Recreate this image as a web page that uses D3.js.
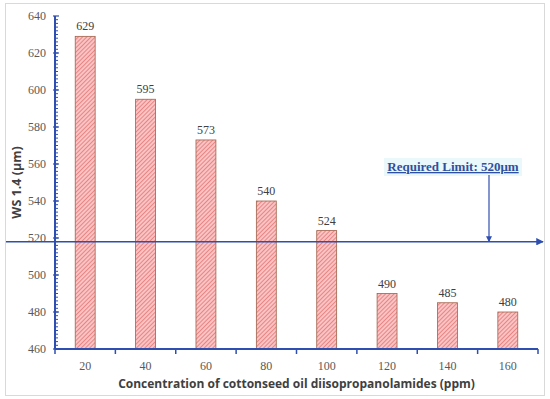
<!DOCTYPE html>
<html>
<head>
<meta charset="utf-8">
<script src="https://cdn.jsdelivr.net/npm/d3@7"></script>
<style>
  body { margin: 0; background: #fff; }
  svg { display: block; }
</style>
</head>
<body>
<svg id="chart" width="550" height="399"></svg>
<script>
const concentrations = ["20", "40", "60", "80", "100", "120", "140", "160"];
const wsValues = [629, 595, 573, 540, 524, 490, 485, 480];
const yTicks = [460, 480, 500, 520, 540, 560, 580, 600, 620, 640];
const limitValue = 518;
const limitLabel = "Required Limit: 520μm";

const width = 550;
const height = 399;
const margin = {top: 16, right: 12, bottom: 50, left: 55};
const axisColor = "#2f4fb0";

const svg = d3.select("#chart");

// outer frame
svg.append("rect")
  .attr("x", 5.5).attr("y", 3.5)
  .attr("width", 539).attr("height", 392)
  .attr("fill", "none")
  .attr("stroke", "#d9d9d9");

const defs = svg.append("defs");
const pat = defs.append("pattern")
  .attr("id", "hatch")
  .attr("patternUnits", "userSpaceOnUse")
  .attr("width", 3).attr("height", 3)
  .attr("patternTransform", "rotate(45)");
pat.append("rect").attr("width", 3).attr("height", 3).attr("fill", "#f9c4c4");
pat.append("line")
  .attr("x1", 0).attr("y1", 0).attr("x2", 0).attr("y2", 3)
  .attr("stroke", "#e45f5f").attr("stroke-width", 1.3);

const x = d3.scaleBand()
  .domain(concentrations)
  .range([margin.left, width - margin.right])
  .paddingInner(0.67)
  .paddingOuter(0.335);

const y = d3.scaleLinear()
  .domain([460, 640])
  .range([height - margin.bottom, margin.top]);

// bars
svg.append("g")
  .selectAll("rect")
  .data(wsValues)
  .join("rect")
    .attr("x", (d, i) => x(concentrations[i]))
    .attr("y", d => y(d))
    .attr("width", x.bandwidth())
    .attr("height", d => y(460) - y(d))
    .attr("fill", "url(#hatch)")
    .attr("stroke", "#a0624a")
    .attr("stroke-width", 0.8);

// value labels
svg.append("g")
  .selectAll("text")
  .data(wsValues)
  .join("text")
    .attr("x", (d, i) => x(concentrations[i]) + x.bandwidth() / 2)
    .attr("y", d => y(d) - 6)
    .attr("text-anchor", "middle")
    .attr("font-family", "Liberation Serif, serif")
    .attr("font-size", 12)
    .attr("fill", "#404040")
    .text(d => d);

// y axis
const yAxis = svg.append("g")
  .attr("transform", `translate(${margin.left},0)`);
yAxis.append("line")
  .attr("y1", y(460)).attr("y2", y(640))
  .attr("stroke", axisColor).attr("stroke-width", 2);
yAxis.selectAll(".minor")
  .data(d3.range(462, 640, 2))
  .join("line")
    .attr("x1", 0).attr("x2", 3)
    .attr("y1", d => y(d)).attr("y2", d => y(d))
    .attr("stroke", axisColor).attr("stroke-width", 1);
yAxis.selectAll(".major")
  .data(yTicks)
  .join("line")
    .attr("x1", -2).attr("x2", 4)
    .attr("y1", d => y(d)).attr("y2", d => y(d))
    .attr("stroke", axisColor).attr("stroke-width", 1.2);
yAxis.selectAll("text")
  .data(yTicks)
  .join("text")
    .attr("x", -9)
    .attr("y", d => y(d))
    .attr("dy", "0.35em")
    .attr("text-anchor", "end")
    .attr("font-family", "Liberation Serif, serif")
    .attr("font-size", 12)
    .attr("fill", "#595959")
    .text(d => d);

// x axis
const xAxis = svg.append("g")
  .attr("transform", `translate(0,${y(460)})`);
xAxis.append("line")
  .attr("x1", margin.left).attr("x2", width - margin.right)
  .attr("stroke", axisColor).attr("stroke-width", 2);
const step = x.step();
xAxis.selectAll(".tick")
  .data(d3.range(concentrations.length + 1))
  .join("line")
    .attr("x1", i => margin.left + i * step)
    .attr("x2", i => margin.left + i * step)
    .attr("y1", 0).attr("y2", 5)
    .attr("stroke", axisColor).attr("stroke-width", 1.5);
xAxis.selectAll("text")
  .data(concentrations)
  .join("text")
    .attr("x", d => x(d) + x.bandwidth() / 2)
    .attr("y", 21)
    .attr("text-anchor", "middle")
    .attr("font-family", "Liberation Serif, serif")
    .attr("font-size", 12)
    .attr("fill", "#595959")
    .text(d => d);

// axis titles
svg.append("text")
  .attr("x", (margin.left + width - margin.right) / 2)
  .attr("y", 388)
  .attr("text-anchor", "middle")
  .attr("font-family", "Open Sans, sans-serif")
  .attr("font-weight", "bold")
  .attr("font-size", 12)
  .attr("fill", "#404040")
  .text("Concentration of cottonseed oil diisopropanolamides (ppm)");

svg.append("text")
  .attr("transform", `translate(21,${(y(460) + y(640)) / 2}) rotate(-90)`)
  .attr("text-anchor", "middle")
  .attr("font-family", "Open Sans, sans-serif")
  .attr("font-weight", "bold")
  .attr("font-size", 12.5)
  .attr("fill", "#404040")
  .text("WS 1.4 (μm)");

// required limit line with arrows
defs.append("marker")
  .attr("id", "arrow")
  .attr("viewBox", "0 0 10 10")
  .attr("refX", 9).attr("refY", 5)
  .attr("markerWidth", 5).attr("markerHeight", 5)
  .attr("orient", "auto")
  .append("path")
    .attr("d", "M0,0 L10,5 L0,10 z")
    .attr("fill", axisColor);

const ly = y(limitValue);
svg.append("line")
  .attr("x1", 6).attr("x2", 543)
  .attr("y1", ly).attr("y2", ly)
  .attr("stroke", axisColor).attr("stroke-width", 1.5)
  .attr("marker-end", "url(#arrow)");

const labelX = 453;
const labelY = 171;
svg.append("rect")
  .attr("x", labelX - 69).attr("y", labelY - 13)
  .attr("width", 138).attr("height", 18)
  .attr("fill", "#eaf8fb");
svg.append("text")
  .attr("x", labelX)
  .attr("y", labelY)
  .attr("text-anchor", "middle")
  .attr("font-family", "Liberation Serif, serif")
  .attr("font-weight", "bold")
  .attr("font-size", 13)
  .attr("text-decoration", "underline")
  .attr("fill", "#2f4f9f")
  .text(limitLabel);

svg.append("line")
  .attr("x1", 489).attr("x2", 489)
  .attr("y1", labelY + 4).attr("y2", ly)
  .attr("stroke", axisColor).attr("stroke-width", 1.2)
  .attr("marker-end", "url(#arrow)");
</script>
</body>
</html>
